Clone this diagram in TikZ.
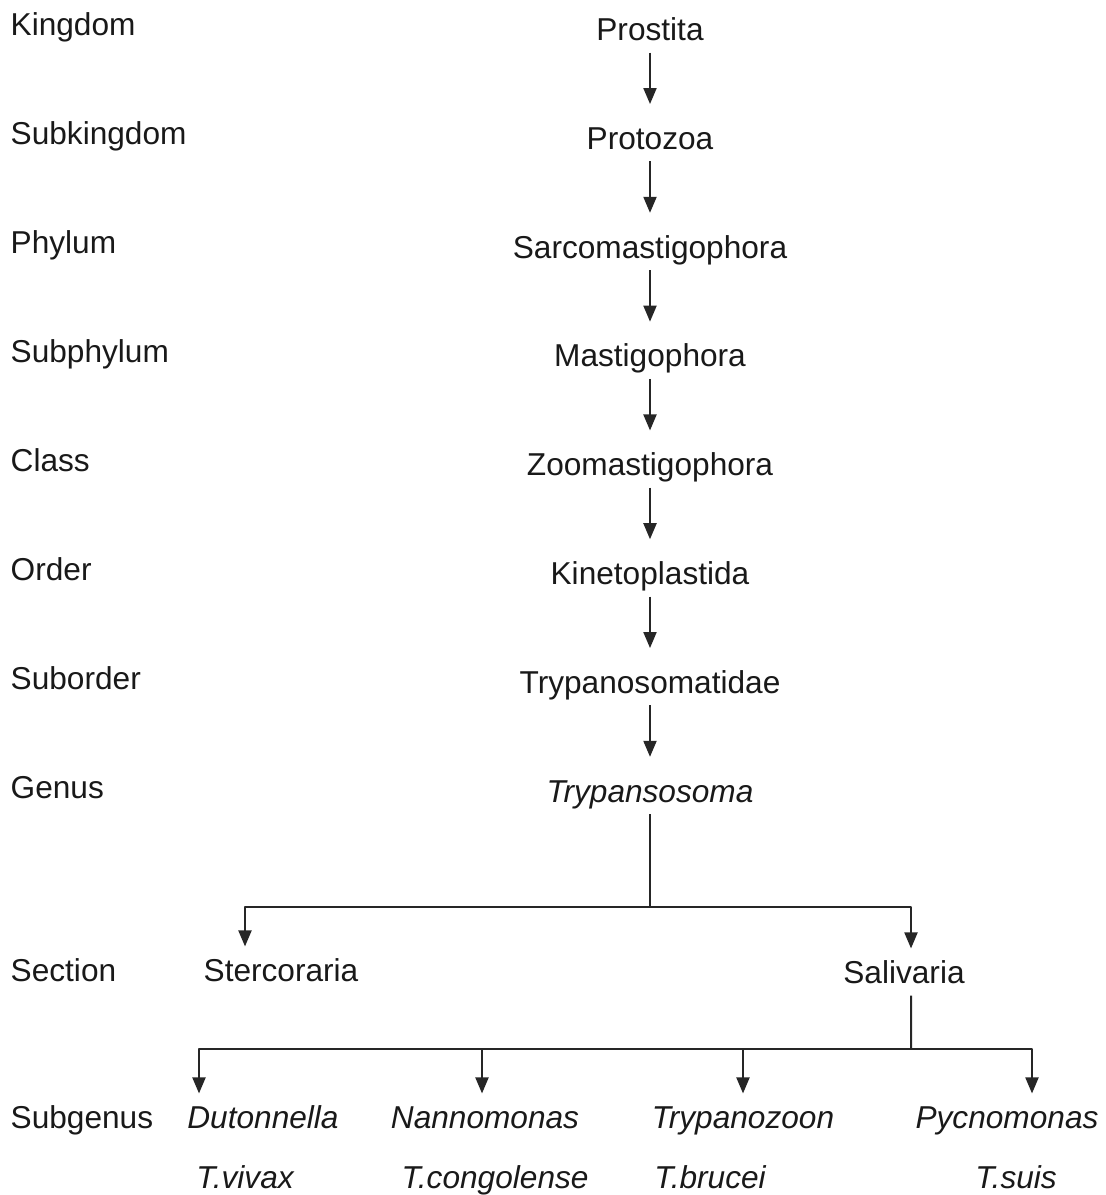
\documentclass[tikz,border=0pt]{standalone}
\usepackage{fontspec}
\setmainfont{Liberation Sans}
\usetikzlibrary{arrows.meta}
\begin{document}
\begin{tikzpicture}[>={Triangle[length=1.6mm,width=1.3mm]},line join=round,
  every node/.style={font=\fontsize{9}{11}\selectfont,text=black!90,text height=7.45pt,text depth=0.95pt,inner ysep=2.3pt,inner xsep=0pt},
  rank/.style={anchor=west},
  sub/.style={font=\fontsize{9}{11}\selectfont\itshape},
  stem/.style={line width=0.57pt,black!85},
  link/.style={stem,->,shorten >=2.9pt},
  branch/.style={stem,->}]
  \useasboundingbox (0,0) rectangle (11.06,11.95);
  % ranks on the left
  \foreach \rk [count=\i] in {Kingdom,Subkingdom,Phylum,Subphylum,Class,Order,Suborder,Genus}
    \node[rank] (rank\i) at (0.10,{11.71-(\i-1)*1.09}) {\rk};
  \node[rank] (rank9) at (0.10,2.25) {Section};
  \node[rank] (rank10) at (0.10,0.78) {Subgenus};
  % main line
  \foreach \tx [count=\i] in {Prostita,Protozoa,Sarcomastigophora,Mastigophora,Zoomastigophora,Kinetoplastida,Trypanosomatidae,\textit{Trypansosoma}}
    \node (t\i) at (6.5,{11.66-(\i-1)*1.088}) {\tx};
  \foreach \i [count=\j from 2] in {1,...,7}
    \draw[link] (t\i) -- (t\j);
  % sections
  \node (sterc) at (2.81,2.25) {Stercoraria};
  \node (saliv) at (9.04,2.23) {Salivaria};
  \coordinate (gsplit) at (6.5,2.88);
  \draw[stem] (t8) -- (gsplit);
  \draw[branch] (gsplit) -| ([xshift=-3.6mm]sterc.north);
  \draw[branch] (gsplit) -| ([xshift=0.7mm]saliv.north);
  % subgenera
  \node[sub] (duton) at (2.63,0.78) {Dutonnella};
  \node[sub] (nanno) at (4.85,0.78) {Nannomonas};
  \node[sub] (trypz) at (7.43,0.78) {Trypanozoon};
  \node[sub] (pycno) at (10.07,0.78) {Pycnomonas};
  \coordinate (ssplit) at (9.11,1.46);
  \draw[stem] ([xshift=0.7mm]saliv.south) -- (ssplit);
  \draw[branch] (ssplit) -| ([xshift=-6.4mm]duton.north);
  \draw[branch] (ssplit) -| ([xshift=-0.3mm]nanno.north);
  \draw[branch] (ssplit) -| (trypz.north);
  \draw[branch] (ssplit) -| ([xshift=2.5mm]pycno.north);
  % species
  \node[sub] (vivax) at (2.45,0.18) {T.vivax};
  \node[sub] (congo) at (4.95,0.18) {T.congolense};
  \node[sub] (bruce) at (7.10,0.18) {T.brucei};
  \node[sub] (suis) at (10.16,0.18) {T.suis};
\end{tikzpicture}
\end{document}
